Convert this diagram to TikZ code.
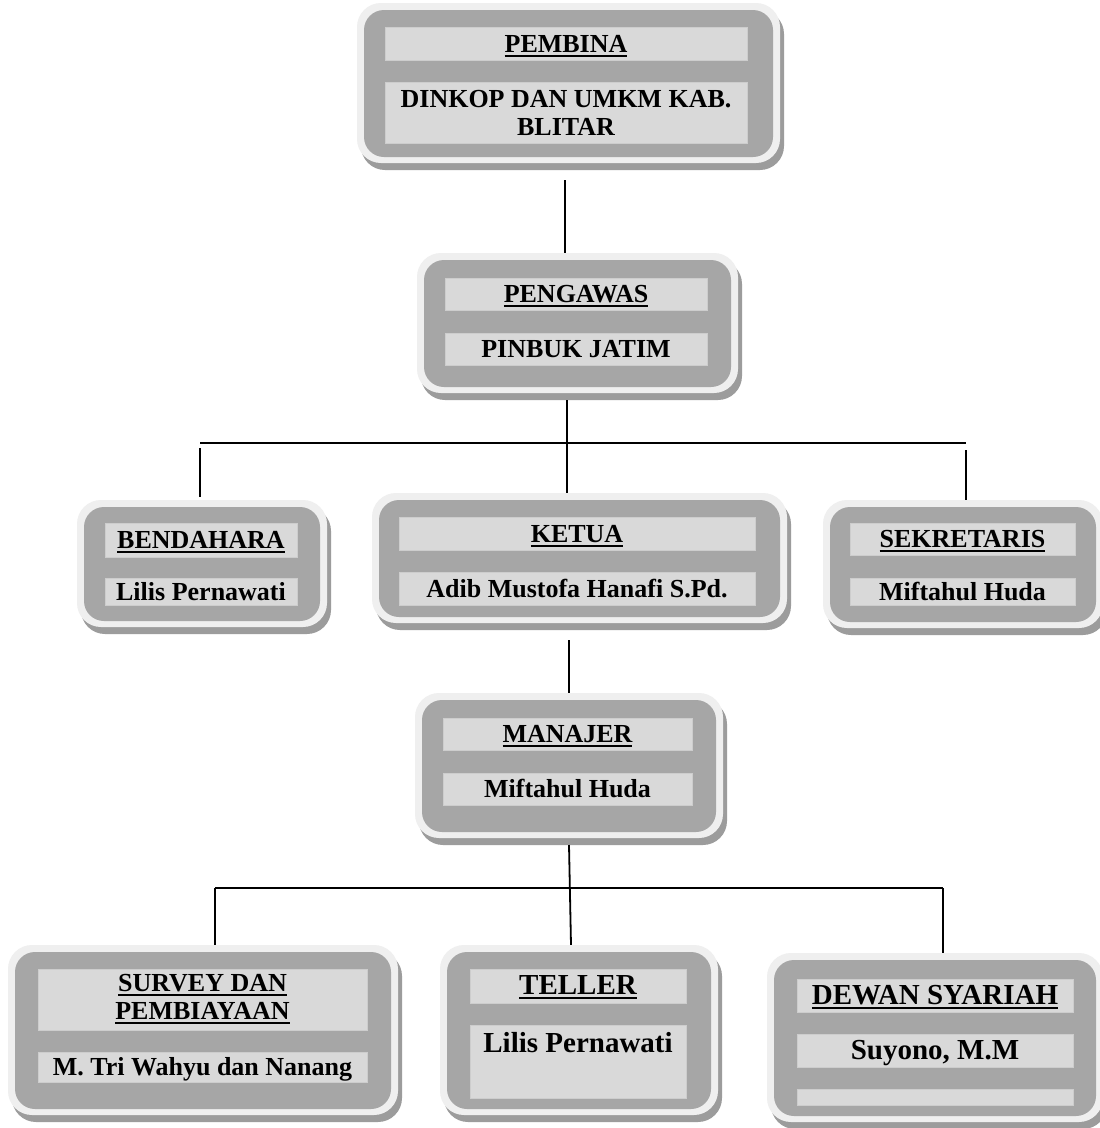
\documentclass[tikz,border=0pt]{standalone}
\usepackage{fontspec}
\setmainfont{Liberation Serif}
\usetikzlibrary{fit,shadows}
\definecolor{frameC}{HTML}{EFEFEF}
\definecolor{innerC}{HTML}{A6A6A6}
\definecolor{barC}{HTML}{D9D9D9}
\definecolor{barLine}{HTML}{CDCDCD}
\definecolor{shadowC}{HTML}{9C9C9C}
\newcommand{\ulx}[1]{\leavevmode\setbox0=\hbox{#1}\rlap{\rule[-4.5pt]{\wd0}{2.2pt}}\box0}
\newcommand{\orgbox}[5]{%
  \node[frameout, fit={(#2,#3)(#4,#5)}] (#1) {};
  \node[framein, fit={(#2+7,#3+7)(#4-7,#5-6)}] (#1-in) {};
}
\tikzset{
  frameout/.style={fill=frameC, rounded corners=24pt, inner sep=0pt,
    drop shadow={shadow xshift=4pt, shadow yshift=-7pt, fill=shadowC, opacity=1}},
  framein/.style={fill=innerC, rounded corners=20pt, inner sep=0pt},
  bar/.style={fill=barC, draw=barLine, line width=0.8pt, inner sep=0pt, align=center,
    font=\fontsize{26}{28}\selectfont\bfseries},
  bigbar/.style={bar, font=\fontsize{29}{31}\selectfont\bfseries},
  one/.style={text height=17.5pt, text depth=0pt},
  conn/.style={line width=1.8pt, black},
}
\begin{document}
\begin{tikzpicture}[x=1pt,y=-1pt]
\useasboundingbox (0,0) rectangle (1100,1128);
\fill[white] (0,0) rectangle (1100,1128);

% frames
\orgbox{pembina}{357}{3}{780}{163}
\orgbox{pengawas}{417}{253}{738}{393}
\orgbox{ketua}{372}{493}{787}{623}
\orgbox{bendahara}{77}{500}{327}{627}
\orgbox{sekretaris}{823}{500}{1103}{628}
\orgbox{manajer}{415}{693}{723}{838}
\orgbox{survey}{8}{945}{398}{1115}
\orgbox{teller}{440}{945}{718}{1115}
\orgbox{dewan}{767}{953}{1103}{1122}

% bars with text
\node[bar, one, minimum width=362pt, minimum height=33pt] (pembina-t) at (566,43.5) {\ulx{PEMBINA}};
\node[bar, minimum width=362pt, minimum height=61pt] (pembina-n) at (566,112.5) {DINKOP DAN UMKM KAB.\\BLITAR};

\node[bar, one, minimum width=262pt, minimum height=32pt] (pengawas-t) at (576,294) {\ulx{PENGAWAS}};
\node[bar, one, minimum width=262pt, minimum height=32pt] (pengawas-n) at (576,349) {PINBUK JATIM};

\node[bar, one, minimum width=356pt, minimum height=33pt] (ketua-t) at (577,533.5) {\ulx{KETUA}};
\node[bar, one, minimum width=356pt, minimum height=33pt] (ketua-n) at (577,588.5) {Adib Mustofa Hanafi S.Pd.};

\node[bar, one, minimum width=192pt, minimum height=34pt] (bendahara-t) at (201,540) {\ulx{BENDAHARA}};
\node[bar, one, minimum width=192pt, minimum height=27pt] (bendahara-n) at (201,591.5) {Lilis Pernawati};

\node[bar, one, minimum width=225pt, minimum height=32pt] (sekretaris-t) at (962.5,539) {\ulx{SEKRETARIS}};
\node[bar, one, minimum width=225pt, minimum height=27pt] (sekretaris-n) at (962.5,591.5) {Miftahul Huda};

\node[bar, one, minimum width=249pt, minimum height=32pt] (manajer-t) at (567.5,734) {\ulx{MANAJER}};
\node[bar, one, minimum width=249pt, minimum height=32pt] (manajer-n) at (567.5,789) {Miftahul Huda};

\node[bar, minimum width=329pt, minimum height=61pt] (survey-t) at (202.5,999.5) {\ulx{SURVEY DAN}\\\ulx{PEMBIAYAAN}};
\node[bar, one, minimum width=329pt, minimum height=30pt] (survey-n) at (202.5,1067) {M. Tri Wahyu dan Nanang};

\node[bigbar, one, minimum width=216pt, minimum height=34pt] (teller-t) at (578,986) {\ulx{TELLER}};
\node[bigbar, minimum width=216pt, minimum height=73pt] (teller-b) at (578,1061.5) {};
\node[anchor=base, inner sep=0pt, font=\fontsize{29}{31}\selectfont\bfseries] (teller-n) at (578,1052) {Lilis Pernawati};

\node[bigbar, one, minimum width=276pt, minimum height=33pt] (dewan-t) at (935,995.5) {\ulx{DEWAN SYARIAH}};
\node[bigbar, one, minimum width=276pt, minimum height=33pt] (dewan-n) at (935,1050.5) {Suyono, M.M};
\node[bar, minimum width=276pt, minimum height=16pt] (dewan-e) at (935,1097) {};

% connectors
\coordinate (j1) at (565,180);
\draw[conn] (j1) -- (j1 |- pengawas.north);
\coordinate (j2) at (567,400);
\draw[conn] (j2) -- (j2 |- ketua.north);
\coordinate (busL) at (200,443);
\coordinate (busR) at (966,443);
\draw[conn] (busL) -- (busR);
\coordinate (busLd) at (200,448);
\draw[conn] (busLd) -- ([yshift=3pt]busLd |- bendahara.north);
\coordinate (busRd) at (966,450);
\draw[conn] (busRd) -- (busRd |- sekretaris.north);
\coordinate (j3) at (569,640);
\draw[conn] (j3) -- (j3 |- manajer.north);
\coordinate (j4) at (569,845);
\coordinate (j4b) at (571,0);
\draw[conn] (j4) -- (j4b |- teller.north);
\coordinate (bus2L) at (215,888);
\coordinate (bus2R) at (943,888);
\draw[conn] (bus2L) -- (bus2R);
\draw[conn] (bus2L) -- (bus2L |- survey.north);
\draw[conn] (bus2R) -- (bus2R |- dewan.north);
\end{tikzpicture}
\end{document}
